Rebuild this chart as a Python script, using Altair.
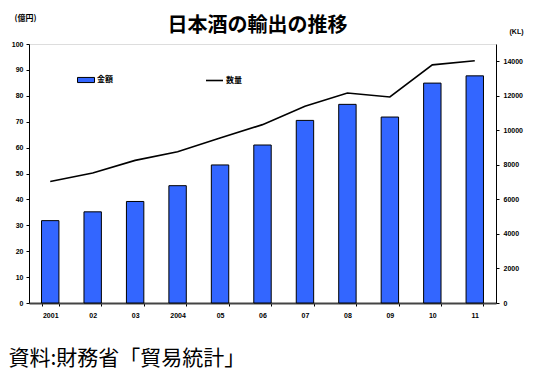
import altair as alt
import pandas as pd

years = ["2001", "02", "03", "2004", "05", "06", "07", "08", "09", "10", "11"]
amount = [31.8, 35.2, 39.2, 45.3, 53.3, 61.0, 70.5, 76.7, 71.8, 84.9, 87.7]
volume = [7040, 7530, 8260, 8760, 9560, 10330, 11390, 12160, 11930, 13790, 14030]

df = pd.DataFrame({"year": years, "amount": amount, "volume": volume})

LAB = "Liberation Sans"
JP = "Noto Sans CJK JP"

x = alt.X(
    "year:N",
    sort=years,
    scale=alt.Scale(paddingInner=0.59, paddingOuter=0.295),
    axis=alt.Axis(
        title="資料:財務省「貿易統計」",
        titleFont=JP, titleFontSize=21, titleFontWeight="normal", titleColor="black",
        titleX=-21, titleY=55, titleAlign="left", titleBaseline="middle", titleAnchor="start",
        labelAngle=0, labelFont=LAB, labelFontSize=7, labelFontWeight="bold", labelColor="black",
        labelPadding=5, tickBand="extent", tickSize=3, tickColor="black",
        domainColor="#444444", domainWidth=2,
    ),
)

bars = alt.Chart(df).transform_calculate(s1="'金額'").mark_bar(
    stroke="black", strokeWidth=1
).encode(
    x=x,
    y=alt.Y(
        "amount:Q",
        scale=alt.Scale(domain=[0, 100], nice=False),
        axis=alt.Axis(
            orient="left", values=list(range(0, 101, 10)), grid=False,
            title="(億円)", titleFont=JP, titleFontSize=8, titleFontWeight="bold", titleColor="black",
            titleAngle=0, titleX=-4, titleY=-26, titleAlign="center", titleBaseline="middle",
            labelFont=LAB, labelFontSize=7, labelFontWeight="bold", labelColor="black",
            labelPadding=3, tickSize=3, tickColor="black", domainColor="black",
        ),
    ),
    fill=alt.Fill(
        "s1:N",
        scale=alt.Scale(domain=["金額"], range=["#3366FF"]),
        legend=alt.Legend(
            title=None, orient="none", legendX=48, legendY=27,
            symbolType="M-1,-0.3H1V0.3H-1Z", symbolSize=289,
            symbolStrokeColor="black", symbolStrokeWidth=1,
            labelFont=JP, labelFontSize=8, labelFontWeight="bold", labelColor="black",
            labelOffset=2,
        ),
    ),
)

line = alt.Chart(df).transform_calculate(s2="'数量'").mark_line(
    strokeWidth=1.6
).encode(
    x=x,
    y=alt.Y(
        "volume:Q",
        scale=alt.Scale(domain=[0, 15000], nice=False),
        axis=alt.Axis(
            orient="right", values=list(range(0, 14001, 2000)), grid=False,
            title="(KL)", titleFont=LAB, titleFontSize=7, titleFontWeight="bold", titleColor="black",
            titleAngle=0, titleX=20, titleY=-13, titleAlign="center", titleBaseline="middle",
            labelFont=LAB, labelFontSize=7, labelFontWeight="bold", labelColor="black",
            labelPadding=4, tickSize=3, tickColor="black", domainColor="black", format="d",
        ),
    ),
    stroke=alt.Stroke(
        "s2:N",
        scale=alt.Scale(domain=["数量"], range=["black"]),
        legend=alt.Legend(
            title=None, orient="none", legendX=176, legendY=27,
            symbolType="stroke", symbolSize=289, symbolStrokeWidth=1.6,
            labelFont=JP, labelFontSize=8, labelFontWeight="bold", labelColor="black",
            labelOffset=2,
        ),
    ),
)

chart = alt.layer(bars, line).resolve_scale(y="independent").properties(
    width=467,
    height=259,
    autosize=alt.AutoSizeParams(type="none"),
    padding={"left": 21, "top": 36, "right": 38, "bottom": 77},
    title=alt.TitleParams(
        "日本酒の輸出の推移", font=JP, fontSize=20, fontWeight="bold", color="black",
        anchor="middle", dx=-5, offset=-22,
    ),
).configure_view(stroke="#888888", strokeWidth=1).configure(background="white")

chart.save("out.html", embed_options={"renderer": "svg", "actions": False})
